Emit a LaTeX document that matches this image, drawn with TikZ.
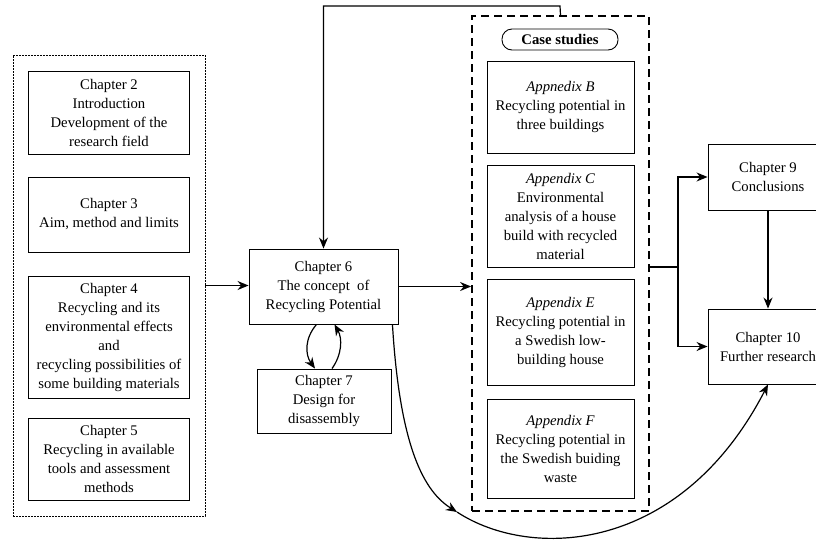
\documentclass[tikz,border=0pt]{standalone}
\usepackage{fontspec}
\setmainfont{Liberation Serif}
\usetikzlibrary{arrows.meta}

\begin{document}
\begin{tikzpicture}[x=1pt,y=-1pt,
    box/.style={draw, line width=0.9pt, align=center, inner sep=0pt, font=\fontsize{14.7}{19}\selectfont},
    arr/.style={line width=1.2pt, -{Stealth[length=11pt,width=9pt]}},
    ln/.style={line width=1.2pt}]
    \useasboundingbox (0,0) rectangle (816,539);
    % Chapters 2 to 5
    \node[draw, dash pattern=on 2pt off 1pt, line width=0.6pt, minimum width=192pt, minimum height=461pt] (intro) at (109,285.5) {};
    \node[box, minimum width=161pt, minimum height=83pt] (ch2) at (109,112.5) {Chapter 2\\Introduction\\Development of the\\research field};
    \node[box, minimum width=161pt, minimum height=75pt] (ch3) at (109,214.5) {Chapter 3\\Aim, method and limits};
    \node[box, minimum width=161pt, minimum height=122pt] (ch4) at (109,337) {Chapter 4\\Recycling and its\\environmental effects\\and\\recycling possibilities of\\some building materials};
    \node[box, minimum width=161pt, minimum height=82pt] (ch5) at (109,459) {Chapter 5\\Recycling in available\\tools and assessment\\methods};
    % Chapters 6 and 7
    \node[box, minimum width=149pt, minimum height=75pt] (ch6) at (323.5,286.5) {Chapter 6\\The concept~ of\\Recycling Potential};
    \node[box, minimum width=134pt, minimum height=64pt] (ch7) at (324,401) {Chapter 7\\Design for\\disassembly};
    % Case studies
    \node[draw, dash pattern=on 8pt off 5pt, line width=1.8pt, minimum width=177pt, minimum height=495pt] (cs) at (560.5,263.5) {};
    \node[draw, rounded corners=10pt, line width=0.9pt, minimum width=116pt, minimum height=21pt, font=\bfseries\fontsize{14.7}{19}\selectfont] (tag) at (560,39.5) {Case studies};
    \node[box, minimum width=147pt, minimum height=92pt] (appb) at (560.5,107) {{\itshape Appnedix B}\\Recycling potential in\\three buildings};
    \node[box, minimum width=147pt, minimum height=102pt] (appc) at (560.5,216) {{\itshape Appendix C}\\Environmental\\analysis of a house\\build with recycled\\material};
    \node[box, minimum width=147pt, minimum height=106pt] (appe) at (560.5,332) {{\itshape Appendix E}\\Recycling potential in\\a Swedish low-\\building house};
    \node[box, minimum width=147pt, minimum height=99pt] (appf) at (560.5,448.5) {{\itshape Appendix F}\\Recycling potential in\\the Swedish buiding\\waste};
    % Chapters 9 and 10
    \node[box, minimum width=120pt, minimum height=66pt] (ch9) at (768,177) {Chapter 9\\Conclusions};
    \node[box, minimum width=120pt, minimum height=75pt] (ch10) at (768,346.5) {Chapter 10\\Further research};
    % straight links
    \draw[arr] (intro.east) -- (intro.east -| ch6.west);
    \draw[arr] (ch6.east) -- (ch6.east -| cs.west);
    \coordinate (fb) at (560,6);
    \draw[arr] (cs.north) -- (fb) -| (ch6.north);
    \coordinate (jn) at (678,267);
    \draw[ln] (cs.east |- jn) -- (jn);
    \draw[arr] (jn) |- (ch9.west);
    \draw[arr] (jn) |- (ch10.west);
    \draw[arr] (ch9.south) -- (ch10.north);
    % loop between 6 and 7
    \draw[arr] ([xshift=-7pt]ch6.south) .. controls +(-12,14) and +(-10,-14) .. ([xshift=-9pt]ch7.north);
    \draw[arr] ([xshift=8pt]ch7.north) .. controls +(10,-14) and +(8,14) .. ([xshift=11pt]ch6.south);
    % long curve to chapter 10
    \coordinate (mid) at (457,512);
    \draw[arr] ([xshift=-6pt]ch6.south east) .. controls (400,450) and (425,492) .. (mid);
    \draw[arr] (mid) .. controls (530,560) and (680,555) .. (ch10.south);
\end{tikzpicture}
\end{document}
